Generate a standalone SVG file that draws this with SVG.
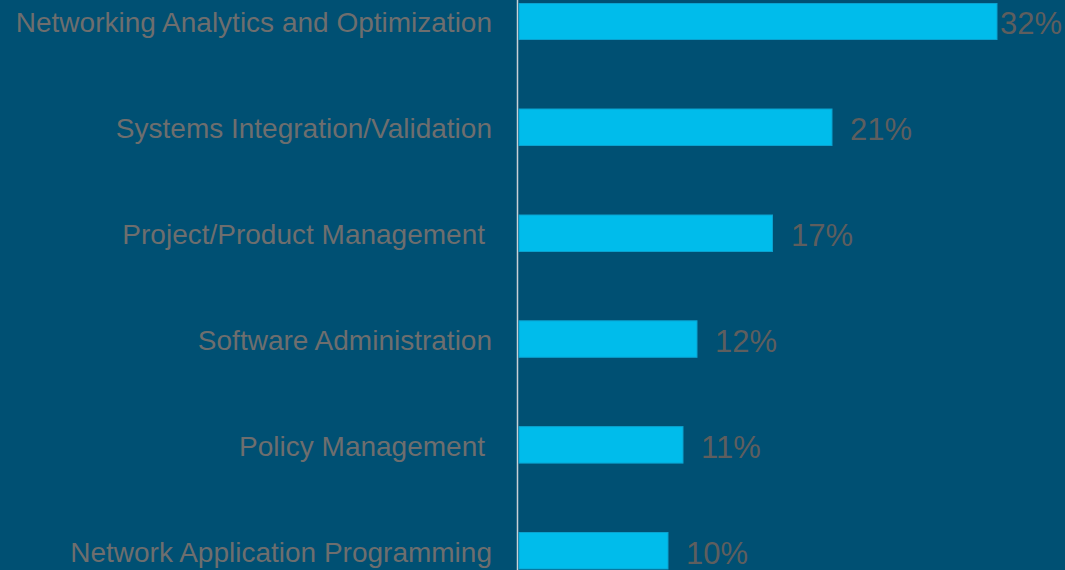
<svg xmlns="http://www.w3.org/2000/svg" width="1065" height="570" viewBox="0 0 1065 570">
<style>
.lbl{font-family:"Liberation Sans",Arial,sans-serif;font-size:28px;fill:#6e6e6e;text-anchor:end}
.val{font-family:"Liberation Sans",Arial,sans-serif;font-size:31px;fill:#5e5e5e}
.bar{fill:#00bceb;stroke:#0aa2cf;stroke-width:1}
</style>
<rect x="0" y="0" width="1065" height="570" fill="#005073"/>
<g id="axis"><line x1="517.5" y1="0" x2="517.5" y2="570" stroke="#c9d0d6" stroke-width="1.5"/></g>
<g id="bar-networking"><rect class="bar" x="519" y="3.5" width="478" height="36"/><text class="lbl" x="492" y="32">Networking Analytics and Optimization</text><text class="val" x="1000" y="34">32%</text></g>
<g id="bar-systems"><rect class="bar" x="519" y="109" width="313" height="36.5"/><text class="lbl" x="492" y="138">Systems Integration/Validation</text><text class="val" x="850" y="140">21%</text></g>
<g id="bar-project"><rect class="bar" x="519" y="215" width="253.5" height="36.5"/><text class="lbl" x="485" y="244">Project/Product Management</text><text class="val" x="791" y="246">17%</text></g>
<g id="bar-software"><rect class="bar" x="519" y="320.8" width="178" height="36.5"/><text class="lbl" x="492" y="350">Software Administration</text><text class="val" x="715" y="352">12%</text></g>
<g id="bar-policy"><rect class="bar" x="519" y="426.6" width="164" height="36.5"/><text class="lbl" x="485" y="456">Policy Management</text><text class="val" x="701" y="458">11%</text></g>
<g id="bar-network-app"><rect class="bar" x="519" y="532.5" width="149" height="36.5"/><text class="lbl" x="492" y="562">Network Application Programming</text><text class="val" x="686" y="564">10%</text></g>
</svg>
